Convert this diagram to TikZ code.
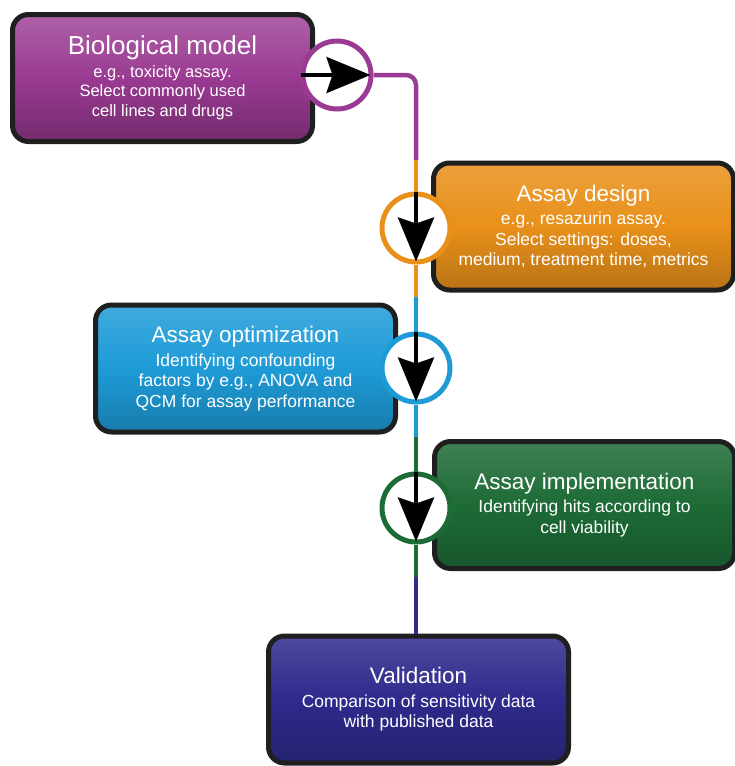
\documentclass[tikz,border=0pt]{standalone}
\usepackage{fontspec}
\setmainfont{Liberation Sans}
\usepackage{xcolor}
\usetikzlibrary{shapes,arrows.meta,positioning,calc}

\definecolor{biopurple}{HTML}{9A3A92}
\definecolor{designorange}{HTML}{E8901A}
\definecolor{optimblue}{HTML}{1E9BD7}
\definecolor{implgreen}{HTML}{1D6B36}
\definecolor{validindigo}{HTML}{2F2A8C}
\newcommand{\stagetitle}[2][22.5]{{\fontsize{#1}{24}\selectfont #2}\\[3pt]}

\begin{document}
\begin{tikzpicture}[
    x=1pt, y=-1pt,
    stage/.style={rectangle, rounded corners=16pt, draw=black!88, line width=5pt,
        minimum width=300pt, minimum height=127pt, align=center, text=white,
        font=\fontsize{17.5}{20.5}\selectfont},
    ring/.style={circle, draw, line width=5pt, fill=white, minimum size=68pt, inner sep=0pt},
    flow/.style={line width=4.5pt},
    arrow/.style={-{Stealth[length=44pt,width=36pt,inset=6pt]}, line width=4pt, black, shorten >=3pt}
]
    \useasboundingbox (0,0) rectangle (734,766);

    % stages
    \node[stage, font=\fontsize{16.5}{19.5}\selectfont, top color=biopurple!80!white, bottom color=biopurple!75!black, middle color=biopurple] (bio) at (162.5,78)
        {\stagetitle[26]{Biological model}e.g., toxicity assay.\\Select commonly used\\cell lines and drugs};
    \node[stage, top color=designorange!85!white, bottom color=designorange!80!black, middle color=designorange] (design) at (583.5,226.5)
        {\stagetitle{Assay design}e.g., resazurin assay.\\Select settings: doses,\\medium, treatment time, metrics};
    \node[stage, top color=optimblue!85!white, bottom color=optimblue!80!black, middle color=optimblue] (optim) at (245.5,368.5)
        {\stagetitle{Assay optimization}Identifying confounding\\factors by e.g., ANOVA and\\QCM for assay performance};
    \node[stage, top color=implgreen!85!white, bottom color=implgreen!80!black, middle color=implgreen] (impl) at (584.5,505)
        {\stagetitle{Assay implementation}Identifying hits according to\\cell viability};
    \node[stage, top color=validindigo!85!white, bottom color=validindigo!80!black, middle color=validindigo] (valid) at (418.5,699.5)
        {\stagetitle{Validation}Comparison of sensitivity data\\with published data};

    % rings on the flow line
    \node[ring, draw=biopurple] (c1) at (337,75) {};
    \node[ring, draw=designorange] (c2) at (416,228) {};
    \node[ring, draw=optimblue] (c3) at (416,368) {};
    \node[ring, draw=implgreen] (c4) at (416,508) {};

    \coordinate (j1) at (416,160);
    \coordinate (j2) at (416,297);
    \coordinate (j3) at (416,437);
    \coordinate (j4) at (416,577);

    \draw[flow, biopurple, rounded corners=10pt] (c1.east) -| (j1);
    \draw[flow, designorange] (j1) -- (c2.north);
    \draw[flow, designorange] (c2.south) -- (j2);
    \draw[flow, optimblue] (j2) -- (c3.north);
    \draw[flow, optimblue] (c3.south) -- (j3);
    \draw[flow, implgreen] (j3) -- (c4.north);
    \draw[flow, implgreen] (c4.south) -- (j4);
    \draw[flow, validindigo] (j4) -- (j4 |- valid.north);

    \draw[arrow] (c1.west) -- (c1.east);
    \draw[arrow] (c2.north) -- (c2.south);
    \draw[arrow] (c3.north) -- (c3.south);
    \draw[arrow] (c4.north) -- (c4.south);
\end{tikzpicture}
\end{document}
